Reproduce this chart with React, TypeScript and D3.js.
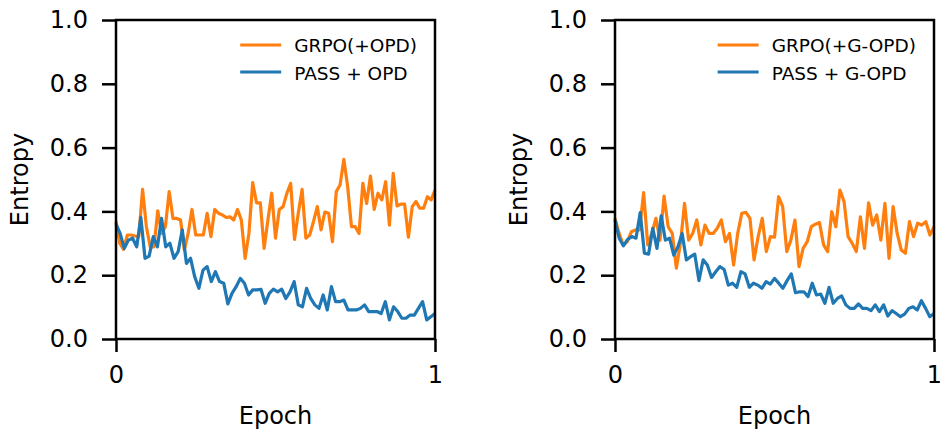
import * as d3 from "d3";
import { useEffect, useRef } from "react";

// values, evenly spaced over one epoch
const grpoOpd = [
  0.368, 0.300, 0.281, 0.326, 0.326, 0.323, 0.321, 0.469, 0.352, 0.289,
  0.289, 0.402, 0.331, 0.352, 0.462, 0.378, 0.378, 0.373, 0.279, 0.331,
  0.406, 0.326, 0.326, 0.326, 0.394, 0.321, 0.406, 0.394, 0.389, 0.381,
  0.383, 0.373, 0.406, 0.373, 0.253, 0.331, 0.490, 0.427, 0.427, 0.284,
  0.373, 0.457, 0.316, 0.406, 0.415, 0.457, 0.488, 0.312, 0.394, 0.469,
  0.316, 0.326, 0.368, 0.415, 0.342, 0.398, 0.394, 0.305, 0.462, 0.483,
  0.563, 0.478, 0.352, 0.352, 0.331, 0.488, 0.425, 0.511, 0.406, 0.457,
  0.436, 0.493, 0.357, 0.519, 0.417, 0.423, 0.423, 0.319, 0.415, 0.431,
  0.410, 0.410, 0.446, 0.436, 0.467,
];
const passOpd = [
  0.360, 0.331, 0.284, 0.310, 0.316, 0.289, 0.381, 0.253, 0.260, 0.321,
  0.289, 0.378, 0.289, 0.300, 0.253, 0.274, 0.342, 0.237, 0.253, 0.195,
  0.159, 0.216, 0.227, 0.180, 0.211, 0.180, 0.175, 0.110, 0.143, 0.164,
  0.190, 0.175, 0.138, 0.154, 0.154, 0.156, 0.112, 0.143, 0.156, 0.148,
  0.156, 0.127, 0.148, 0.180, 0.107, 0.101, 0.159, 0.127, 0.107, 0.096,
  0.138, 0.091, 0.164, 0.117, 0.117, 0.122, 0.091, 0.091, 0.091, 0.096,
  0.107, 0.086, 0.086, 0.086, 0.080, 0.117, 0.060, 0.101, 0.086, 0.065,
  0.065, 0.075, 0.075, 0.096, 0.117, 0.060, 0.070, 0.080,
];
const grpoGOpd = [
  0.378, 0.331, 0.295, 0.305, 0.336, 0.342, 0.342, 0.459, 0.295, 0.331,
  0.378, 0.310, 0.448, 0.352, 0.331, 0.222, 0.300, 0.425, 0.310, 0.331,
  0.373, 0.295, 0.357, 0.331, 0.331, 0.347, 0.373, 0.305, 0.331, 0.232,
  0.331, 0.394, 0.397, 0.378, 0.248, 0.321, 0.378, 0.274, 0.321, 0.319,
  0.446, 0.415, 0.274, 0.310, 0.373, 0.227, 0.284, 0.305, 0.352, 0.360,
  0.365, 0.295, 0.274, 0.399, 0.352, 0.467, 0.431, 0.321, 0.300, 0.274,
  0.383, 0.284, 0.427, 0.357, 0.389, 0.310, 0.425, 0.253, 0.415, 0.331,
  0.279, 0.269, 0.368, 0.321, 0.363, 0.357, 0.368, 0.326, 0.352,
];
const passGOpd = [
  0.373, 0.316, 0.292, 0.312, 0.321, 0.316, 0.396, 0.269, 0.266, 0.347,
  0.284, 0.386, 0.310, 0.316, 0.263, 0.289, 0.331, 0.248, 0.258, 0.266,
  0.183, 0.248, 0.232, 0.193, 0.211, 0.227, 0.218, 0.169, 0.175, 0.162,
  0.211, 0.204, 0.162, 0.175, 0.169, 0.159, 0.180, 0.172, 0.190, 0.175,
  0.159, 0.183, 0.204, 0.145, 0.148, 0.148, 0.133, 0.175, 0.138, 0.141,
  0.112, 0.162, 0.112, 0.127, 0.135, 0.107, 0.096, 0.096, 0.110, 0.096,
  0.096, 0.089, 0.107, 0.086, 0.107, 0.072, 0.089, 0.080, 0.070, 0.078,
  0.096, 0.101, 0.091, 0.120, 0.096, 0.070, 0.080,
];

const leftLabels = ["GRPO(+OPD)", "PASS + OPD"];
const rightLabels = ["GRPO(+G-OPD)", "PASS + G-OPD"];
const epochTicks = [0, 1];
const entropyTicks = [0, 0.2, 0.4, 0.6, 0.8, 1.0];
const colors = ["#ff7f0e", "#1f77b4"];

const width = 940;
const height = 430;
const font = "DejaVu Sans, sans-serif";

export default function App() {
  const ref = useRef<SVGSVGElement>(null);

  useEffect(() => {
    const svg = d3.select(ref.current);
    svg.selectAll("*").remove();

    const panels = [
      { left: 116, series: [grpoOpd, passOpd], labels: leftLabels },
      { left: 615, series: [grpoGOpd, passGOpd], labels: rightLabels },
    ];
    const plotW = 319;
    const top = 20;
    const bottom = 339;

    panels.forEach((p) => {
      const x = d3.scaleLinear().domain([0, 1]).range([p.left, p.left + plotW]);
      const y = d3.scaleLinear().domain([0, 1]).range([bottom, top]);
      const g = svg.append("g");

      // lines, orange first so blue sits on top
      p.series.forEach((vals, k) => {
        const n = vals.length;
        const line = d3
          .line<number>()
          .x((d, i) => x(i / (n - 1)))
          .y((d) => y(d));
        g.append("path")
          .datum(vals)
          .attr("fill", "none")
          .attr("stroke", colors[k])
          .attr("stroke-width", 3.2)
          .attr("stroke-linejoin", "round")
          .attr("d", line);
      });

      // y axis
      const yAxis = g
        .append("g")
        .attr("transform", `translate(${p.left},0)`)
        .call(d3.axisLeft(y).tickValues(entropyTicks).tickFormat(d3.format(".1f")).tickSize(14).tickPadding(14));
      // x axis
      const xAxis = g
        .append("g")
        .attr("transform", `translate(0,${bottom})`)
        .call(d3.axisBottom(x).tickValues(epochTicks).tickFormat(d3.format("d")).tickSize(13).tickPadding(14));
      [yAxis, xAxis].forEach((ax) => {
        ax.select(".domain").remove();
        ax.selectAll("line").attr("stroke", "#000").attr("stroke-width", 2.5);
        ax.selectAll("text")
          .attr("fill", "#000")
          .style("font-family", font)
          .style("font-size", "24px");
      });

      // box
      g.append("rect")
        .attr("x", p.left)
        .attr("y", top)
        .attr("width", plotW)
        .attr("height", bottom - top)
        .attr("fill", "none")
        .attr("stroke", "#000")
        .attr("stroke-width", 2.5);

      g.append("text")
        .attr("x", p.left + plotW / 2)
        .attr("y", 424)
        .attr("text-anchor", "middle")
        .style("font-family", font)
        .style("font-size", "24px")
        .text("Epoch");
      g.append("text")
        .attr("transform", `translate(${p.left - 88},${(top + bottom) / 2}) rotate(-90)`)
        .attr("text-anchor", "middle")
        .style("font-family", font)
        .style("font-size", "24px")
        .text("Entropy");

      // legend, right aligned inside the box
      const leg = g.append("g");
      const texts = leg
        .selectAll("text")
        .data(p.labels)
        .join("text")
        .attr("y", (d, i) => 52 + i * 27.5)
        .style("font-family", font)
        .style("font-size", "18.5px")
        .text((d) => d);
      let maxW = 0;
      texts.each(function () {
        maxW = Math.max(maxW, (this as SVGTextElement).getComputedTextLength());
      });
      const textX = p.left + plotW - 18 - maxW;
      texts.attr("x", textX);
      leg
        .selectAll("line")
        .data(p.labels)
        .join("line")
        .attr("x1", textX - 54)
        .attr("x2", textX - 13)
        .attr("y1", (d, i) => 45 + i * 27)
        .attr("y2", (d, i) => 45 + i * 27)
        .attr("stroke", (d, i) => colors[i])
        .attr("stroke-width", 3.2);
    });
  }, []);

  return (
    <svg
      ref={ref}
      width={width}
      height={height}
      style={{ position: "absolute", left: 0, top: 0, background: "#fff" }}
    />
  );
}
